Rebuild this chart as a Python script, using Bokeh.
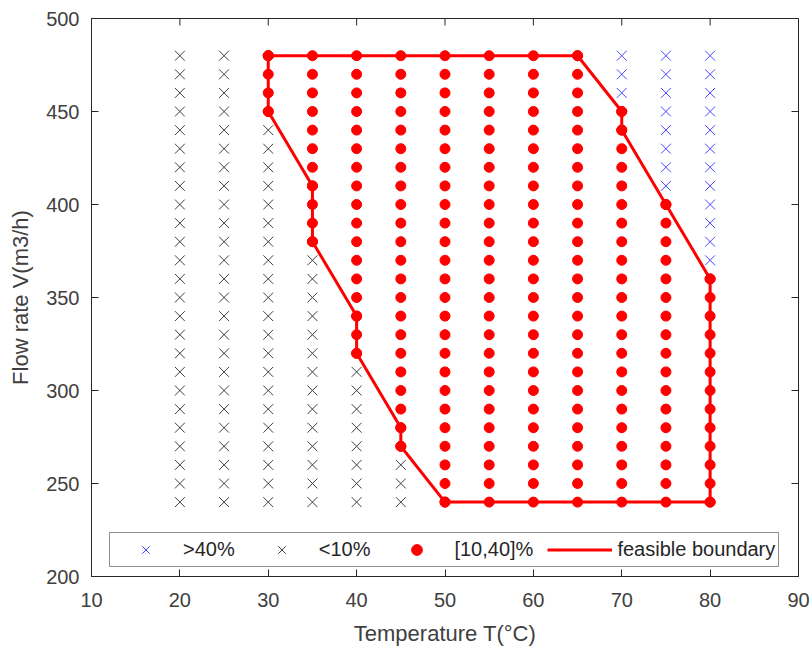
from bokeh.plotting import figure
from bokeh.models import Legend, LegendItem, FixedTicker, Range1d
from bokeh.embed import file_html
from bokeh.resources import INLINE

# ---- data ----
temperature_levels = [20, 25, 30, 35, 40, 45, 50, 55, 60, 65, 70, 75, 80]
flow_levels = [240, 250, 260, 270, 280, 290, 300, 310, 320, 330, 340, 350, 360,
               370, 380, 390, 400, 410, 420, 430, 440, 450, 460, 470, 480]
# lowest / highest flow in the [10,40]% band for each temperature column (None = no feasible point)
feasible_min_flow = [None, None, 450, 380, 320, 270, 240, 240, 240, 240, 240, 240, 240]
feasible_max_flow = [None, None, 480, 480, 480, 480, 480, 480, 480, 480, 450, 400, 360]

boundary_T = [30, 65, 70, 70, 75, 80, 80, 50, 45, 45, 40, 40, 35, 35, 30, 30]
boundary_V = [480, 480, 450, 440, 400, 360, 240, 240, 270, 280, 320, 340, 380, 410, 450, 480]

x_ticks = [10, 20, 30, 40, 50, 60, 70, 80, 90]
y_ticks = [200, 250, 300, 350, 400, 450, 500]

# ---- classify grid points ----
hi_T, hi_V, lo_T, lo_V, ok_T, ok_V = [], [], [], [], [], []
for t, vmin, vmax in zip(temperature_levels, feasible_min_flow, feasible_max_flow):
    for v in flow_levels:
        if vmin is None or v < vmin:
            lo_T.append(t); lo_V.append(v)
        elif v > vmax:
            hi_T.append(t); hi_V.append(v)
        else:
            ok_T.append(t); ok_V.append(v)

FONT = "Liberation Sans"
AX = "#262626"
X0, X1, Y0, Y1 = 10, 90, 200, 500
W, H = 811, 648
BL, BR, BT, BB = 91, 13, 18, 72
FW, FH = W - BL - BR, H - BT - BB
TICK = 7

p = figure(width=W, height=H, output_backend="svg", toolbar_location=None,
           x_range=Range1d(X0, X1), y_range=Range1d(Y0, Y1),
           min_border_left=BL, min_border_right=BR, min_border_top=BT, min_border_bottom=BB)
p.grid.visible = False
p.outline_line_color = AX
p.outline_line_width = 1

for ax, ticks in ((p.xaxis[0], x_ticks), (p.yaxis[0], y_ticks)):
    ax.ticker = FixedTicker(ticks=ticks)
    ax.major_tick_in = TICK
    ax.major_tick_out = 0
    ax.minor_tick_in = 0
    ax.minor_tick_out = 0
    ax.axis_line_color = AX
    ax.major_tick_line_color = AX
    ax.major_label_text_font = FONT
    ax.major_label_text_font_size = "20px"
    ax.major_label_text_color = "#404040"
    ax.axis_label_text_font = FONT
    ax.axis_label_text_font_size = "22px"
    ax.axis_label_text_font_style = "normal"
    ax.axis_label_text_color = "#404040"

p.xaxis.axis_label = "Temperature T(°C)"
p.yaxis.axis_label = "Flow rate V(m3/h)"
p.xaxis.major_label_standoff = 16
p.yaxis.major_label_standoff = 12
p.xaxis.axis_label_standoff = 11
p.yaxis.axis_label_standoff = 10

# inward ticks on the top and right edges of the box
dy = TICK * (Y1 - Y0) / FH
dx = TICK * (X1 - X0) / FW
p.segment(x0=x_ticks, y0=[Y1] * len(x_ticks), x1=x_ticks, y1=[Y1 - dy] * len(x_ticks),
          line_color=AX, line_width=1)
p.segment(x0=[X1] * len(y_ticks), y0=y_ticks, x1=[X1 - dx] * len(y_ticks), y1=y_ticks,
          line_color=AX, line_width=1)

r_lo = p.scatter(lo_T, lo_V, marker="x", size=14, line_color="#404040", line_width=1)
r_hi = p.scatter(hi_T, hi_V, marker="x", size=14, line_color="#4848ff", line_width=1)
r_ok = p.scatter(ok_T, ok_V, marker="circle", size=10, fill_color="#ff0000", line_color="#ff0000")
r_b = p.line(boundary_T, boundary_V, line_color="#ff0000", line_width=3)
p.scatter(boundary_T, boundary_V, marker="circle", size=10, fill_color="#ff0000", line_color="#ff0000")

legend = Legend(items=[LegendItem(label=">40%", renderers=[r_hi]),
                       LegendItem(label="<10%", renderers=[r_lo]),
                       LegendItem(label="[10,40]%", renderers=[r_ok]),
                       LegendItem(label="feasible boundary", renderers=[r_b])],
                location=(18, 9), orientation="horizontal",
                label_text_font=FONT, label_text_font_size="20px", label_text_color=AX,
                border_line_color=AX, border_line_width=1, background_fill_alpha=1,
                padding=3, spacing=14, glyph_width=65, glyph_height=27, label_height=20,
                label_standoff=5, margin=0)
p.add_layout(legend)

open("out.html", "w").write(file_html(p, INLINE))
